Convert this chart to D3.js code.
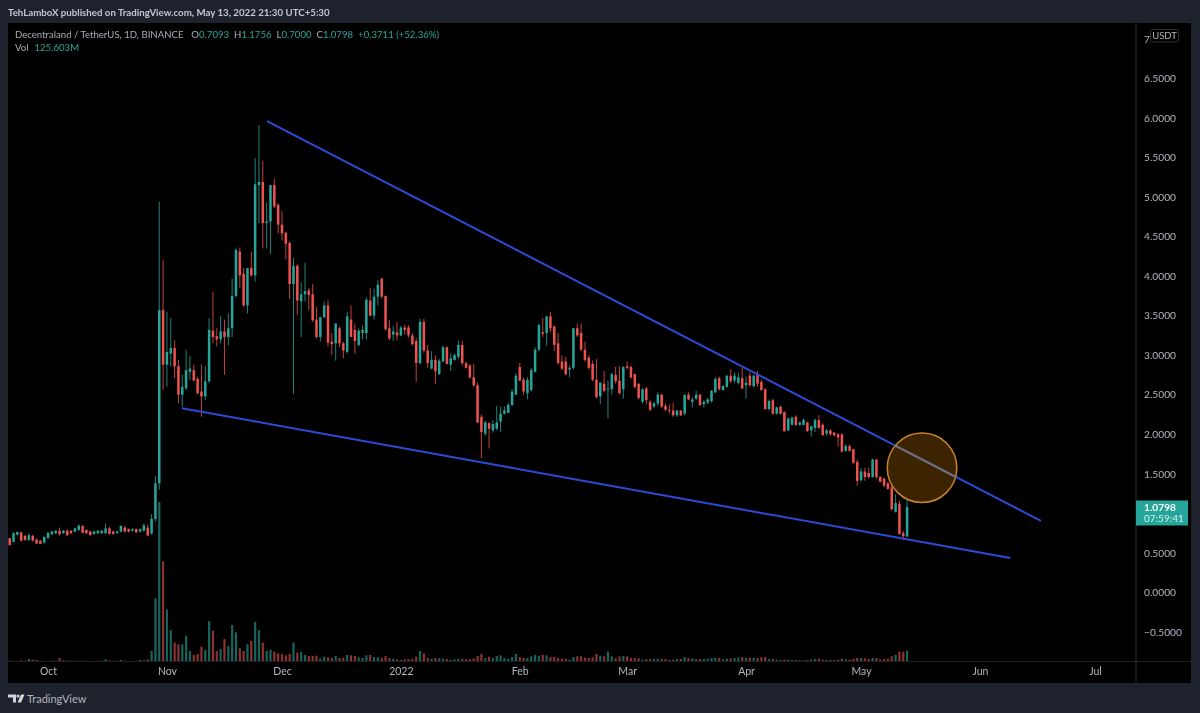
<!DOCTYPE html>
<html lang="en">
<head>
  <meta charset="UTF-8">
  <title>Decentraland / TetherUS</title>
  <script src="https://d3js.org/d3.v7.min.js"></script>
  <style>
    html, body { margin: 0; padding: 0; background: #1e222d; overflow: hidden; }
    text { font-family: Lato, "Open Sans", sans-serif; }
  </style>
</head>
<body>
  <script>

    var width = 1200;
    var height = 713;

    // first candle is Sep 21 2021, one candle per day up to May 13 2022
    var firstDay = Date.UTC(2021, 8, 21);

    var opens = [
      .685,.64,.73,.76,.715,.665,.715,.67,.655,.63,
      .685,.735,.75,.78,.75,.78,.78,.77,.79,.84,
      .79,.77,.74,.75,.75,.75,.81,.77,.75,.77,
      .82,.80,.78,.80,.77,.78,.82,.745,.93,1.38,
      3.57,2.88,3.02,3.09,2.86,2.50,2.58,2.79,2.81,2.70,
      2.54,2.48,2.67,3.31,3.24,3.20,3.30,3.23,3.34,3.75,
      4.31,4.03,3.63,4.10,4.01,5.15,5.19,4.67,4.69,5.15,
      4.90,4.65,4.55,4.42,3.90,4.13,3.68,3.77,3.82,3.77,
      3.45,3.23,3.48,3.63,3.17,3.15,3.34,3.15,3.04,3.45,
      3.32,3.13,3.28,3.28,3.69,3.50,3.74,3.97,3.75,3.34,
      3.26,3.29,3.25,3.35,3.35,3.25,3.18,2.90,3.42,3.06,
      2.83,2.94,2.76,2.92,3.10,2.88,2.94,2.98,3.13,2.90,
      2.87,2.72,2.62,2.22,2.01,2.14,2.05,2.07,2.16,2.26,
      2.27,2.37,2.50,2.85,2.69,2.52,2.56,2.79,3.07,3.29,
      3.28,3.49,3.36,3.15,2.92,2.92,2.82,2.84,3.34,3.28,
      3.07,2.97,2.89,2.69,2.48,2.64,2.57,2.57,2.75,2.68,
      2.57,2.86,2.85,2.76,2.64,2.41,2.58,2.41,2.35,2.39,
      2.50,2.36,2.31,2.30,2.24,2.30,2.26,2.50,2.41,2.45,
      2.50,2.38,2.40,2.42,2.53,2.71,2.56,2.60,2.74,2.68,
      2.65,2.71,2.62,2.74,2.61,2.75,2.66,2.57,2.32,2.43,
      2.26,2.35,2.28,2.05,2.12,2.22,2.12,2.12,2.15,2.05,
      2.08,2.18,2.12,2.01,2.05,2.02,2.00,2.00,1.79,1.85,
      1.81,1.65,1.42,1.53,1.51,1.46,1.68,1.46,1.44,1.38,
      1.33,1.02,1.12,.75,.7093
    ];

    var highs = [
      .69,.76,.77,.77,.73,.75,.73,.68,.66,.71,
      .76,.78,.79,.82,.79,.80,.79,.82,.86,.85,
      .80,.78,.78,.79,.79,.87,.83,.78,.78,.85,
      .84,.81,.81,.81,.81,.87,.86,.99,1.47,4.94,
      4.2,3.55,3.47,3.19,2.94,2.75,3.07,2.99,2.88,2.73,
      2.88,2.86,3.47,3.80,3.34,3.50,3.45,3.53,3.97,4.35,
      4.36,4.10,4.10,4.31,5.49,5.91,5.46,4.93,5.15,5.23,
      4.92,4.82,4.55,4.44,4.23,4.15,3.92,4.17,3.85,3.90,
      3.61,3.48,3.68,3.70,3.28,3.40,3.36,3.17,3.55,3.63,
      3.40,3.34,3.38,3.73,3.85,3.84,3.95,3.97,3.75,3.45,
      3.37,3.42,3.37,3.38,3.38,3.28,3.22,3.46,3.46,3.13,
      3.05,3.00,2.95,3.12,3.11,3.02,3.02,3.19,3.18,2.92,
      2.89,2.89,2.65,2.25,2.17,2.15,2.18,2.36,2.35,2.35,
      2.40,2.57,2.77,2.90,2.72,2.72,2.84,3.10,3.40,3.47,
      3.49,3.55,3.38,3.28,3.0,2.98,2.87,3.34,3.40,3.40,
      3.17,3.0,2.93,2.95,2.66,2.80,2.68,2.78,2.85,2.86,
      2.86,2.92,2.87,2.77,2.64,2.58,2.60,2.43,2.41,2.53,
      2.51,2.39,2.38,2.40,2.31,2.31,2.50,2.53,2.47,2.55,
      2.51,2.43,2.46,2.56,2.72,2.73,2.62,2.75,2.82,2.78,
      2.78,2.84,2.73,2.78,2.75,2.80,2.69,2.58,2.44,2.45,
      2.35,2.36,2.29,2.21,2.22,2.24,2.16,2.20,2.16,2.11,
      2.20,2.24,2.14,2.07,2.06,2.03,2.01,2.01,1.88,1.87,
      1.82,1.68,1.57,1.58,1.58,1.69,1.69,1.47,1.45,1.40,
      1.34,1.24,1.16,.78,1.1756
    ];

    var lows = [
      .59,.63,.72,.645,.65,.65,.645,.61,.61,.62,
      .68,.73,.74,.72,.74,.71,.74,.76,.78,.75,
      .74,.72,.73,.74,.74,.74,.73,.73,.74,.76,
      .76,.76,.77,.75,.76,.77,.71,.73,.90,1.30,
      2.56,2.60,2.86,2.71,2.39,2.35,2.56,2.69,2.67,2.50,
      2.22,2.43,2.65,3.15,3.11,3.15,2.75,3.12,3.23,3.73,
      3.85,3.61,3.53,3.99,3.93,4.67,4.35,4.35,4.28,4.86,
      4.54,4.45,4.21,3.71,2.51,3.51,3.23,3.68,3.57,3.42,
      3.21,3.17,3.47,3.11,3.00,2.93,3.10,2.96,3.02,3.23,
      3.02,3.11,3.20,3.20,3.49,3.45,3.63,3.72,3.31,3.19,
      3.18,3.19,3.24,3.26,3.22,3.12,2.66,2.88,3.03,2.84,
      2.82,2.64,2.75,2.91,2.88,2.80,2.93,2.95,2.87,2.83,
      2.70,2.60,2.14,1.70,1.98,1.82,2.02,2.05,2.03,2.25,
      2.27,2.36,2.50,2.67,2.50,2.44,2.54,2.78,3.05,3.23,
      3.12,3.29,3.05,2.88,2.81,2.74,2.72,2.82,3.23,3.05,
      2.92,2.82,2.67,2.45,2.38,2.53,2.20,2.50,2.64,2.50,
      2.45,2.82,2.70,2.58,2.44,2.39,2.38,2.29,2.33,2.36,
      2.33,2.29,2.26,2.22,2.22,2.23,2.24,2.43,2.34,2.43,
      2.36,2.34,2.38,2.40,2.52,2.55,2.55,2.59,2.65,2.65,
      2.63,2.57,2.45,2.60,2.59,2.60,2.55,2.31,2.30,2.25,
      2.25,2.25,2.03,2.04,2.11,2.10,2.11,2.11,2.03,1.97,
      2.03,2.07,1.98,1.98,1.98,1.97,1.84,1.77,1.78,1.78,
      1.62,1.35,1.40,1.41,1.44,1.45,1.44,1.39,1.33,1.30,
      1.04,1.01,.73,.66,.70
    ];

    var closes = [
      .60,.75,.765,.655,.665,.725,.655,.62,.615,.70,
      .755,.77,.78,.735,.78,.725,.75,.81,.845,.755,
      .75,.725,.77,.78,.78,.81,.74,.74,.77,.84,
      .77,.77,.80,.76,.80,.85,.72,.93,1.38,3.57,
      2.88,3.04,3.09,2.86,2.50,2.60,2.81,2.83,2.68,2.52,
      2.48,2.67,3.32,3.23,3.20,3.30,3.23,3.34,3.75,4.33,
      4.01,3.63,4.10,4.01,5.16,5.19,4.67,4.69,5.15,4.88,
      4.65,4.54,4.41,3.90,4.13,3.69,3.77,3.81,3.76,3.44,
      3.23,3.48,3.63,3.16,3.14,3.40,3.15,3.06,3.49,3.23,
      3.18,3.31,3.32,3.70,3.50,3.74,3.89,3.74,3.33,3.21,
      3.30,3.25,3.35,3.32,3.25,3.14,2.90,3.42,3.06,2.90,
      2.94,2.80,2.93,3.10,2.89,2.96,3.00,3.13,2.90,2.84,
      2.72,2.62,2.15,2.03,2.15,2.07,2.13,2.15,2.26,2.30,
      2.37,2.54,2.74,2.68,2.54,2.69,2.81,3.07,3.38,3.27,
      3.49,3.34,3.13,2.90,2.83,2.76,2.84,3.34,3.25,3.07,
      2.94,2.84,2.69,2.47,2.65,2.55,2.58,2.76,2.67,2.52,
      2.85,2.84,2.72,2.60,2.46,2.57,2.43,2.31,2.39,2.50,
      2.35,2.31,2.30,2.24,2.30,2.24,2.50,2.44,2.44,2.50,
      2.37,2.41,2.44,2.55,2.70,2.57,2.61,2.74,2.67,2.74,
      2.72,2.58,2.65,2.62,2.74,2.64,2.56,2.32,2.42,2.26,
      2.34,2.26,2.04,2.20,2.21,2.12,2.15,2.18,2.04,2.10,
      2.18,2.08,1.99,2.05,2.00,1.99,1.96,1.78,1.85,1.79,
      1.64,1.41,1.53,1.46,1.46,1.68,1.46,1.40,1.35,1.31,
      1.05,1.13,.74,.71,1.0798
    ];

    // volume in millions
    var volumes = [
      15,12,10,18,14,36,28,22,14,12,
      10,16,14,44,20,16,14,15,12,14,
      12,10,12,12,14,30,18,14,12,22,
      14,10,10,12,22,20,30,122,707,1780,
      1120,585,355,218,196,196,292,122,81,89,
      170,133,455,348,122,144,255,178,411,330,
      152,122,196,233,448,355,215,122,137,115,
      96,89,74,89,218,104,111,78,67,67,
      70,40,59,52,44,67,44,48,78,74,
      67,52,44,74,78,55,52,44,67,44,
      37,30,22,30,30,33,59,122,96,44,
      37,44,40,40,33,22,30,37,37,33,
      30,40,67,92,44,59,44,67,74,44,
      37,55,89,55,44,44,63,78,70,78,
      74,55,55,44,37,37,26,55,63,63,
      48,44,52,89,70,63,115,63,44,63,
      67,63,44,44,41,26,30,33,37,37,
      33,33,22,26,33,33,55,44,41,33,
      33,33,37,44,48,44,30,37,41,44,
      48,55,48,48,48,44,52,55,33,37,
      26,22,26,26,22,22,18,18,22,26,
      33,37,26,22,22,22,26,37,30,26,
      33,44,44,41,37,44,44,30,33,37,
      63,81,115,115,125.603
    ];

    // 1.0000 is hidden behind the last price tag in the reference
    var priceTicks = [-0.5, 0, 0.5, 1.5, 2, 2.5, 3, 3.5, 4, 4.5, 5, 5.5, 6, 6.5, 7];
    var monthTicks = [
      Date.UTC(2021, 9, 1), Date.UTC(2021, 10, 1), Date.UTC(2021, 11, 1), Date.UTC(2022, 0, 1), Date.UTC(2022, 1, 1),
      Date.UTC(2022, 2, 1), Date.UTC(2022, 3, 1), Date.UTC(2022, 4, 1), Date.UTC(2022, 5, 1), Date.UTC(2022, 6, 1)
    ];
    var monthLabels = ["Oct", "Nov", "Dec", "2022", "Feb", "Mar", "Apr", "May", "Jun", "Jul"];

    // trend lines: [day number, price]
    var upperLine = [[67.1, 5.96], [268.9, 0.904]];
    var lowerLine = [[44.9, 2.33], [260.9, 0.436]];
    var circleMark = { day: 237.9, price: 1.576, priceTop: 2.022 };

    var legendValues = [["O", "0.7093"], ["H", "1.1756"], ["L", "0.7000"], ["C", "1.0798"]];

    var green = "#26a69a";
    var red = "#ef5350";
    var dayMs = 86400000;

    var svg = d3.select("body")
      .append("svg")
        .attr("width", width)
        .attr("height", height)
        .style("display", "block");

    var defs = svg.append("defs");
    defs.append("filter")
        .attr("id", "soft")
      .append("feGaussianBlur")
        .attr("stdDeviation", 0.45);

    svg.append("rect")
        .attr("width", width)
        .attr("height", height)
        .attr("fill", "#1e222d");

    // black chart panel
    svg.append("rect")
        .attr("x", 8)
        .attr("y", 23)
        .attr("width", 1183)
        .attr("height", 660)
        .attr("fill", "#000");

    var x = d3.scaleUtc()
        .domain([firstDay, firstDay + 100 * dayMs])
        .range([9.7, 393.2]);

    var y = d3.scaleLinear()
        .domain([-0.5, 7])
        .range([632, 38.8]);

    var yVolume = d3.scaleLinear()
        .domain([0, 1780])
        .range([662, 502]);

    var candles = d3.range(opens.length).map(function(i) {
      return {
        date: firstDay + i * dayMs,
        open: opens[i],
        high: highs[i],
        low: lows[i],
        close: closes[i],
        volume: volumes[i]
      };
    });

    var plot = svg.append("g").attr("filter", "url(#soft)");

    // volume bars sit behind the candles
    plot.selectAll(".vol")
      .data(candles)
      .enter()
      .append("rect")
        .attr("class", "vol")
        .attr("x", function(d) { return x(d.date) - 1.1; })
        .attr("y", function(d) { return yVolume(d.volume); })
        .attr("width", 2.2)
        .attr("height", function(d) { return yVolume(0) - yVolume(d.volume); })
        .attr("fill", function(d) { return d.close >= d.open ? green : red; })
        .attr("opacity", 0.6);

    plot.selectAll(".wick")
      .data(candles)
      .enter()
      .append("line")
        .attr("class", "wick")
        .attr("x1", function(d) { return x(d.date); })
        .attr("x2", function(d) { return x(d.date); })
        .attr("y1", function(d) { return y(d.high); })
        .attr("y2", function(d) { return y(d.low); })
        .attr("stroke", function(d) { return d.close >= d.open ? green : red; })
        .attr("stroke-width", 1)
        .attr("opacity", 0.8);

    plot.selectAll(".body")
      .data(candles)
      .enter()
      .append("rect")
        .attr("class", "body")
        .attr("x", function(d) { return x(d.date) - 1.25; })
        .attr("y", function(d) { return y(Math.max(d.open, d.close)); })
        .attr("width", 2.5)
        .attr("height", function(d) { return Math.max(1, Math.abs(y(d.open) - y(d.close))); })
        .attr("fill", function(d) { return d.close >= d.open ? green : red; });

    // trend lines
    var trend = d3.line()
        .x(function(d) { return x(firstDay + d[0] * dayMs); })
        .y(function(d) { return y(d[1]); });

    [upperLine, lowerLine].forEach(function(points) {
      svg.append("path")
          .attr("d", trend(points))
          .attr("fill", "none")
          .attr("stroke", "#2c4bd6")
          .attr("stroke-width", 2);
    });

    // highlight circle goes over the upper line
    var circleX = x(firstDay + circleMark.day * dayMs);
    var circleY = y(circleMark.price);
    var circleR = circleY - y(circleMark.priceTop) - 0.5;

    defs.append("clipPath")
        .attr("id", "insideCircle")
      .append("circle")
        .attr("cx", circleX)
        .attr("cy", circleY)
        .attr("r", circleR);

    svg.append("circle")
        .attr("cx", circleX)
        .attr("cy", circleY)
        .attr("r", circleR)
        .attr("fill", "rgba(255, 152, 0, 0.24)")
        .attr("stroke", "#c9832c")
        .attr("stroke-width", 1.5);

    // the line looks grey where it passes under the circle
    svg.append("path")
        .attr("d", trend(upperLine))
        .attr("fill", "none")
        .attr("stroke", "#6f6f80")
        .attr("stroke-width", 2)
        .attr("clip-path", "url(#insideCircle)");

    // separators of the axes
    svg.append("line")
        .attr("x1", 1136).attr("x2", 1136)
        .attr("y1", 23).attr("y2", 683)
        .attr("stroke", "#2a2e39");
    svg.append("line")
        .attr("x1", 8).attr("x2", 1191)
        .attr("y1", 661.5).attr("y2", 661.5)
        .attr("stroke", "#1c1f28");

    // price axis
    var priceAxis = d3.axisRight(y)
        .tickValues(priceTicks)
        .tickSize(0)
        .tickPadding(8)
        .tickFormat(function(d) {
          if (d === 7) return "7";
          return (d < 0 ? "\u2212" + Math.abs(d).toFixed(4) : d.toFixed(4));
        });

    var priceG = svg.append("g")
        .attr("transform", "translate(1136,0)")
        .call(priceAxis);
    priceG.select(".domain").remove();
    priceG.selectAll("text")
        .attr("fill", "#b2b5be")
        .style("font-size", "10.2px");

    // time axis
    var timeAxis = d3.axisBottom(x)
        .tickValues(monthTicks)
        .tickSize(0)
        .tickPadding(6)
        .tickFormat(function(d, i) { return monthLabels[i]; });

    var timeG = svg.append("g")
        .attr("transform", "translate(0,662)")
        .call(timeAxis);
    timeG.select(".domain").remove();
    timeG.selectAll("text")
        .attr("fill", "#b2b5be")
        .style("font-size", "10.5px");

    // USDT button
    svg.append("rect")
        .attr("x", 1150.5).attr("y", 29.5)
        .attr("width", 28).attr("height", 12.5)
        .attr("rx", 2)
        .attr("fill", "#000")
        .attr("stroke", "#2a2e39");
    svg.append("text")
        .attr("x", 1164.5).attr("y", 39.3)
        .attr("text-anchor", "middle")
        .attr("fill", "#b2b5be")
        .style("font-size", "9.5px")
        .text("USDT");

    // last price tag
    svg.append("rect")
        .attr("x", 1136).attr("y", 500.5)
        .attr("width", 52).attr("height", 25)
        .attr("fill", green);
    svg.append("text")
        .attr("x", 1144).attr("y", 511)
        .attr("fill", "#fff")
        .style("font-size", "10.2px")
        .style("font-weight", "700")
        .text("1.0798");
    svg.append("text")
        .attr("x", 1144).attr("y", 522)
        .attr("fill", "#d4efec")
        .style("font-size", "10px")
        .text("07:59:41");

    // header
    svg.append("text")
        .attr("x", 8).attr("y", 16)
        .attr("fill", "#c3c6cf")
        .style("font-size", "9.7px")
        .style("font-weight", "700")
        .text("TehLamboX published on TradingView.com, May 13, 2022 21:30 UTC+5:30");

    // legend
    var legend = svg.append("text")
        .attr("x", 15).attr("y", 38)
        .style("font-size", "9.6px");
    legend.append("tspan")
        .attr("fill", "#a9acb5")
        .text("Decentraland / TetherUS, 1D, BINANCE");
    legendValues.forEach(function(d, i) {
      legend.append("tspan").attr("dx", i === 0 ? 8 : 5).attr("fill", "#a9acb5").text(d[0]);
      legend.append("tspan").attr("fill", green).text(d[1]);
    });
    legend.append("tspan").attr("dx", 5).attr("fill", green).text("+0.3711 (+52.36%)");

    var volLegend = svg.append("text")
        .attr("x", 15).attr("y", 51)
        .style("font-size", "9.6px");
    volLegend.append("tspan").attr("fill", "#a9acb5").text("Vol");
    volLegend.append("tspan").attr("dx", 6).attr("fill", green).text("125.603M");

    // TradingView logo, bottom left
    var logo = svg.append("g")
        .attr("transform", "translate(8,694.5)")
        .attr("fill", "#d1d4dc");
    logo.append("path").attr("d", "M0 0H8V8H5V3H0Z");
    logo.append("circle").attr("cx", 10).attr("cy", 1.6).attr("r", 1.6);
    logo.append("path").attr("d", "M13 0H16.5L13 8H9.5Z");
    svg.append("text")
        .attr("x", 27).attr("y", 703)
        .attr("fill", "#b2b5be")
        .style("font-size", "11px")
        .text("TradingView");

  </script>
</body>
</html>
